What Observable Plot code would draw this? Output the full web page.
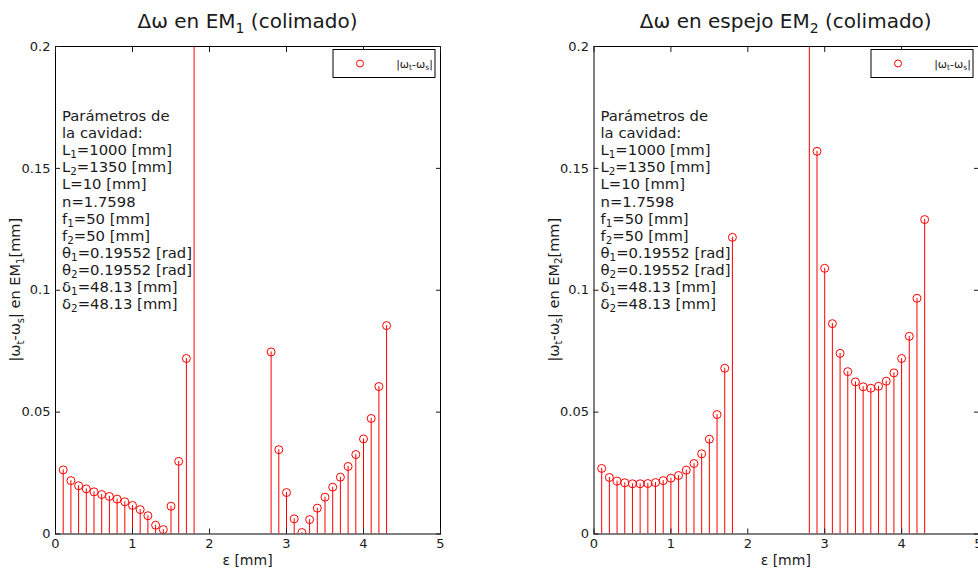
<!DOCTYPE html>
<html><head><meta charset="utf-8">
<script src="https://cdn.jsdelivr.net/npm/d3@7"></script>
<script src="https://cdn.jsdelivr.net/npm/@observablehq/plot@0.6"></script>
<style>
body{margin:0;background:#fff;font-family:"DejaVu Sans",sans-serif;}
#row{display:flex;width:978px;height:573px;overflow:hidden;}
#row svg{display:block;flex:none;}
</style></head><body><div id="row"></div>
<script>
// ε [mm] positions
const eps = [0.1,0.2,0.3,0.4,0.5,0.6,0.7,0.8,0.9,1.0,1.1,1.2,1.3,1.4,1.5,1.6,1.7,1.8,
             2.8,2.9,3.0,3.1,3.2,3.3,3.4,3.5,3.6,3.7,3.8,3.9,4.0,4.1,4.2,4.3];
// |ωt-ωs| in EM1 [mm]
const em1 = [0.0263,0.0219,0.0198,0.0185,0.0173,0.0162,0.0154,0.0143,0.0132,0.0117,0.0100,0.0075,0.0036,0.0018,0.0114,0.0298,0.0720,0.30,
             0.0747,0.0346,0.0170,0.0062,0.0006,0.0059,0.0106,0.0151,0.0192,0.0233,0.0277,0.0326,0.0390,0.0474,0.0605,0.0855];
// |ωt-ωs| in mirror EM2 [mm]
const em2 = [0.0269,0.0232,0.0217,0.0210,0.0206,0.0206,0.0207,0.0211,0.0219,0.0229,0.0240,0.0262,0.0289,0.0329,0.0389,0.0490,0.0680,0.1217,
             0.30,0.1570,0.1090,0.0863,0.0741,0.0666,0.0624,0.0604,0.0598,0.0606,0.0627,0.0661,0.0720,0.0811,0.0967,0.1290];
const xTicks = [0,1,2,3,4,5];
const yTicks = [0,0.05,0.1,0.15,0.2];
const params = ["Parámetros de","la cavidad:","L_1=1000 [mm]","L_2=1350 [mm]","L=10 [mm]","n=1.7598",
  "f_1=50 [mm]","f_2=50 [mm]","θ_1=0.19552 [rad]","θ_2=0.19552 [rad]","δ_1=48.13 [mm]","δ_2=48.13 [mm]"];
const legendLabel = "|ω_t-ω_s|";

const TXT = "#1a1a1a";
function rich(t, str, size, shift = 0.25) {
  const parts = str.split(/(_.)/);
  let sub = false;
  for (const p of parts) {
    if (!p) continue;
    if (p[0] === "_" && p.length === 2) {
      t.append("tspan").attr("font-size", size*0.7).attr("dy", (sub?0:size*shift)).text(p[1]);
      sub = true;
    } else {
      t.append("tspan").attr("dy", sub ? -size*shift : 0).text(p);
      sub = false;
    }
  }
  return t;
}

function panel({values, title, ylabel, marginLeft, marginRight}) {
  const W = 489, H = 573, mt = 46, mb = 39.5;
  const data = eps.map((x,i)=>({x, y: values[i]}));
  const svgEl = Plot.plot({
    width: W, height: H, marginLeft, marginRight, marginTop: mt, marginBottom: mb,
    style: {fontFamily: "DejaVu Sans", fontSize: "13px", background: "white", color: TXT},
    x: {domain: [0,5]},
    y: {domain: [0,0.2]},
    marks: [
      Plot.ruleX(data, {x:"x", y1: 0, y2:"y", stroke:"#ff0000", strokeWidth: 1, clip: true}),
      Plot.dot(data, {x:"x", y:"y", r:4, stroke:"#ff0000", fill:"none", strokeWidth: 1, clip: true}),
      Plot.frame({stroke:"black"}),
      Plot.axisX({ticks: xTicks, anchor: "bottom", tickSize: 0, tickPadding: 5, tickFormat: d => String(d), label: null}),
      Plot.axisX({ticks: xTicks, anchor: "bottom", tickSize: -5, tickFormat: () => "", label: null}),
      Plot.axisX({ticks: xTicks, anchor: "top", tickSize: -5, tickFormat: () => "", label: null}),
      Plot.axisY({ticks: yTicks, anchor: "left", tickSize: 0, tickPadding: 5, tickFormat: d => String(d), label: null}),
      Plot.axisY({ticks: yTicks, anchor: "left", tickSize: -5, tickFormat: () => "", label: null}),
      Plot.axisY({ticks: yTicks, anchor: "right", tickSize: -5, tickFormat: () => "", label: null})
    ]
  });
  const svg = d3.select(svgEl);
  const x0 = marginLeft, x1 = W - marginRight, y0 = mt, y1 = H - mb;
  const cx = (x0 + x1) / 2;
  // title
  rich(svg.append("text").attr("x", cx).attr("y", 28).attr("text-anchor","middle")
    .attr("font-size", 20).attr("fill", TXT), title, 20);
  // x label
  svg.append("text").attr("x", cx).attr("y", 565).attr("text-anchor","middle")
    .attr("font-size", 14).attr("fill", TXT).text("ε [mm]");
  // y label
  rich(svg.append("text").attr("transform", `translate(${x0-35},${(y0+y1)/2}) rotate(-90)`)
    .attr("text-anchor","middle").attr("font-size", 14.5).attr("fill", TXT), ylabel, 14.5);
  // parameters
  params.forEach((s,i) => {
    rich(svg.append("text").attr("x", x0 + 7).attr("y", 121 + i*17.1).attr("text-anchor","start")
      .attr("font-size", 14.8).attr("fill", TXT), s, 14.8, 0.2);
  });
  // legend
  const lw = 102, lh = 28, lx = x1 - 5 - lw, ly = y0 + 3.5;
  const g = svg.append("g");
  g.append("rect").attr("x", lx).attr("y", ly).attr("width", lw).attr("height", lh)
    .attr("fill","white").attr("stroke","black").attr("stroke-width",1);
  g.append("circle").attr("cx", lx + 27).attr("cy", ly + 14).attr("r", 3.5)
    .attr("fill","none").attr("stroke","#ff0000");
  rich(g.append("text").attr("x", lx + lw - 2).attr("y", ly + 18).attr("text-anchor","end")
    .attr("font-size", 11).attr("fill", TXT), legendLabel, 11);
  return svgEl;
}

const row = document.getElementById("row");
row.appendChild(panel({values: em1, title: "Δω en EM_1 (colimado)", ylabel: "|ω_t-ω_s| en EM_1[mm]", marginLeft: 55, marginRight: 49}));
row.appendChild(panel({values: em2, title: "Δω en espejo EM_2 (colimado)", ylabel: "|ω_t-ω_s| en EM_2[mm]", marginLeft: 104.5, marginRight: 0}));
</script></body></html>
